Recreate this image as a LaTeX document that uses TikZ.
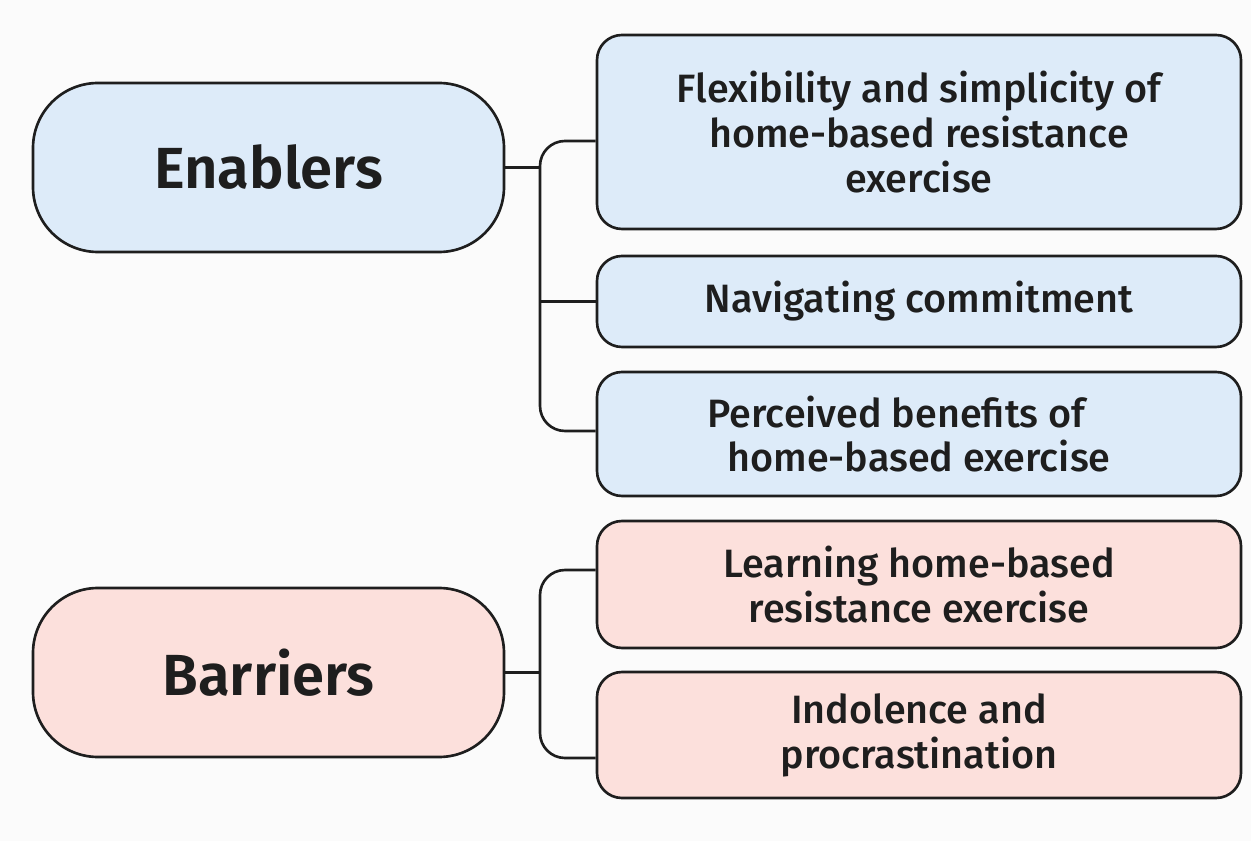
\documentclass[tikz,border=0pt]{standalone}
\usepackage{fontspec}
\setmainfont{Fira Sans}[UprightFont=* Medium, BoldFont=* SemiBold]
\usetikzlibrary{positioning}

\definecolor{bgcol}{HTML}{FBFBFB}
\definecolor{enfill}{HTML}{DDEBF9}
\definecolor{bafill}{HTML}{FCE0DC}
\definecolor{inkcol}{HTML}{1E1E1E}

\tikzset{
  groupbox/.style={draw=inkcol,line width=1.5pt,rounded corners=1.3cm,minimum width=9.42cm,minimum height=3.38cm,font=\fontsize{33}{36}\selectfont\bfseries,text=inkcol},
  themebox/.style={draw=inkcol,line width=1.5pt,rounded corners=0.5cm,minimum width=12.88cm,align=center,font=\fontsize{22.5}{25.5}\selectfont,text=inkcol},
  link/.style={draw=inkcol,line width=1.5pt,rounded corners=0.5cm}
}

\begin{document}
\begin{tikzpicture}
\fill[bgcol] (0,0) rectangle (25.02,16.82);

% left hand groups
\node[groupbox,fill=enfill] (en) at (5.37,13.47) {Enablers};
\node[groupbox,fill=bafill] (ba) at (5.37,3.37) {Barriers};

% enabler themes
\node[themebox,fill=enfill,minimum height=3.88cm] (flex) at (18.38,14.18) {Flexibility and simplicity of\\home-based resistance\\exercise};
\node[themebox,fill=enfill,minimum height=1.82cm] (nav) at (18.38,10.79) {Navigating commitment};
\node[themebox,fill=enfill,minimum height=2.48cm] (perc) at (18.38,8.14) {Perceived benefits of\hspace*{0.9cm}\\home-based exercise};

% barrier themes
\node[themebox,fill=bafill,minimum height=2.54cm] (learn) at (18.38,5.13) {Learning home-based\\resistance exercise};
\node[themebox,fill=bafill,minimum height=2.52cm] (indo) at (18.38,2.12) {Indolence and\\procrastination};

% brackets
\coordinate (ej) at (10.8,13.47);
\coordinate (bj) at (10.8,3.37);
\coordinate (f1) at ([yshift=-0.18cm]flex.west);
\coordinate (p1) at ([yshift=0.06cm]perc.west);
\coordinate (l1) at ([yshift=0.29cm]learn.west);
\coordinate (i1) at ([yshift=-0.46cm]indo.west);
\draw[link] (f1) -| (ej |- p1) -- (p1);
\draw[link] (en.east) -- (ej);
\draw[link] (nav.west) -- (nav.west -| ej);
\draw[link] (l1) -| (bj |- i1) -- (i1);
\draw[link] (ba.east) -- (bj);

\end{tikzpicture}
\end{document}
